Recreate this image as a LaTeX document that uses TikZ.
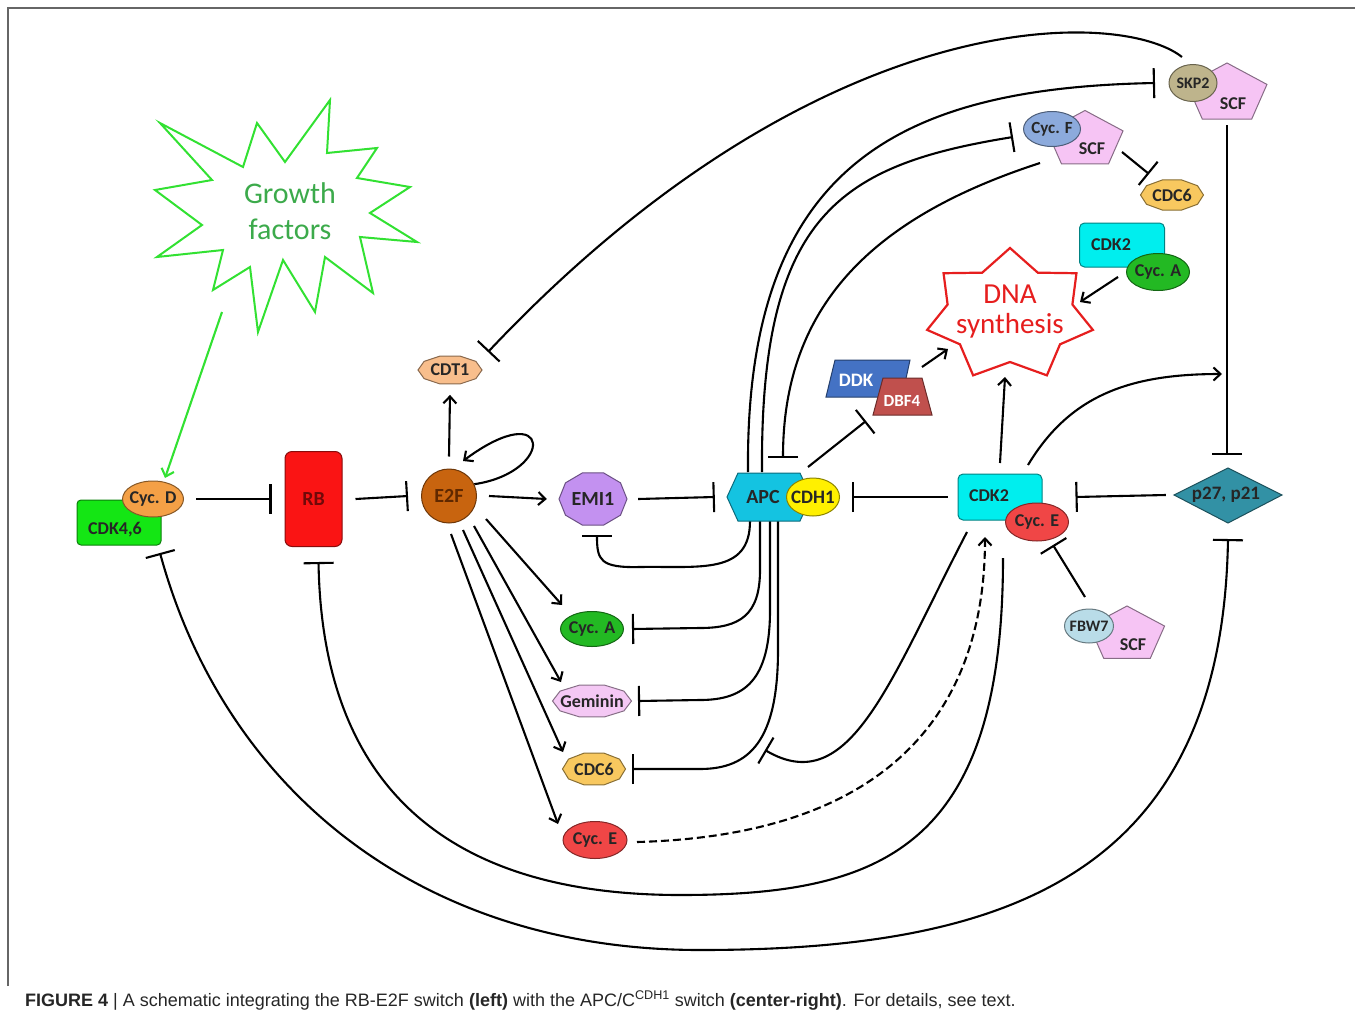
\documentclass[tikz,border=0pt]{standalone}
\usepackage{fontspec}
\setmainfont{Carlito}
\newfontfamily\capfont{Liberation Sans}
\usetikzlibrary{arrows.meta,shapes.geometric,calc}
\pgfdeclarelayer{bg}
\pgfsetlayers{bg,main}
\newcommand\zb[1]{\makebox[0pt]{#1}}
\definecolor{cdkgreen}{RGB}{20,230,20}
\definecolor{cycdorange}{RGB}{244,160,70}
\definecolor{rbred}{RGB}{250,20,20}
\definecolor{e2fbrown}{RGB}{200,100,15}
\definecolor{e2ftext}{RGB}{95,40,0}
\definecolor{cdtpeach}{RGB}{248,190,140}
\definecolor{emipurple}{RGB}{195,145,240}
\definecolor{apccyan}{RGB}{20,195,225}
\definecolor{cdhyellow}{RGB}{255,240,0}
\definecolor{cycagreen}{RGB}{35,185,35}
\definecolor{gempink}{RGB}{244,200,244}
\definecolor{cdcyellow}{RGB}{248,200,95}
\definecolor{cycered}{RGB}{240,70,70}
\definecolor{cdkcyan}{RGB}{0,238,238}
\definecolor{p27teal}{RGB}{50,145,165}
\definecolor{scfpink}{RGB}{246,196,244}
\definecolor{fbwblue}{RGB}{185,220,232}
\definecolor{skptan}{RGB}{190,180,140}
\definecolor{cycfblue}{RGB}{140,170,220}
\definecolor{ddkblue}{RGB}{68,114,196}
\definecolor{dbfred}{RGB}{192,80,77}
\definecolor{dnared}{RGB}{230,30,30}
\definecolor{gfgreen}{RGB}{50,225,50}
\definecolor{gftext}{RGB}{60,170,75}
\tikzset{
  lbl/.style={font=\bfseries\fontsize{18}{18}\selectfont, text=black!85},
  fl/.style={fill=#1, draw=#1!55!black, line width=1pt},
  ell/.style={ellipse, inner sep=0pt, lbl},
  act/.style={line width=2.1pt, -{Straight Barb[length=7pt,width=13pt]}},
  inh/.style={line width=2.1pt, -{Bar[width=30pt]}},
  inhboth/.style={line width=2.1pt, {Bar[width=30pt]}-{Bar[width=30pt]}},
}
\newcommand\mydeca[7]{%
  \begin{scope}[shift={(#2,#3)}]
  \draw[#6] (#4,0) -- ({.809*#4},{.588*#5}) -- ({.309*#4},{.951*#5}) -- ({-.309*#4},{.951*#5}) -- ({-.809*#4},{.588*#5}) -- (-#4,0) -- ({-.809*#4},{-.588*#5}) -- ({-.309*#4},{-.951*#5}) -- ({.309*#4},{-.951*#5}) -- ({.809*#4},{-.588*#5}) -- cycle;
  \node[ell, minimum width=2*#4pt, minimum height=2*#5pt] (#1) at (0,0) {\zb{#7}};
  \end{scope}}
\newcommand\mypent[5]{%
  \draw[#5] (#1,{#2-#4}) -- ({#1+.951*#3},{#2-.309*#4}) -- ({#1+.588*#3},{#2+.809*#4}) -- ({#1-.588*#3},{#2+.809*#4}) -- ({#1-.951*#3},{#2-.309*#4}) -- cycle;}
\begin{document}
\begin{tikzpicture}[x=1pt,y=-1pt]
\useasboundingbox (0,0) rectangle (1355,1017);
\draw[black!60, line width=1.2pt] (8,986) -- (8,8) -- (1355,8);

% ---------- Growth factors star
\draw[gfgreen, line width=2pt, line join=miter]
 (160,123) -- (243,167) -- (257,123) -- (285,162) -- (330,100) -- (327,153) -- (377,148) -- (357,178) -- (410,187) -- (370,213) -- (417,242) -- (360,237) -- (373,293) -- (325,257) -- (315,312) -- (283,260) -- (258,332) -- (250,267) -- (213,290) -- (223,250) -- (157,257) -- (202,225) -- (155,190) -- (212,180) -- cycle;
\node[align=center, text=gftext, font=\fontsize{30}{36}\selectfont] (gf) at (290,211) {Growth\\factors};
\coordinate (gfo) at (222,312);

% ---------- left nodes
\node[fl=cdkgreen, rectangle, rounded corners=4pt, minimum width=84pt, minimum height=45pt, inner sep=0pt] (cdk46) at (119,522.5) {};
\node[lbl] (cdk46t) at (115,530) {CDK4,6};
\node[ell, fl=cycdorange, minimum width=61pt, minimum height=36pt] (cycd) at (153,499) {\zb{Cyc. D}};
\node[fl=rbred, rectangle, rounded corners=7pt, minimum width=57pt, minimum height=95pt, lbl, text=rbred!45!black, font=\bfseries\fontsize{20}{20}\selectfont] (rb) at (313.5,499) {RB};
\node[ell, fl=e2fbrown, minimum width=55pt, minimum height=54pt, text=e2ftext, font=\bfseries\fontsize{20}{20}\selectfont] (e2f) at (449,496) {\zb{E2F}};
\mydeca{cdt1}{450}{370}{32}{14.7}{fl=cdtpeach}{CDT1}
\mydeca{emi1}{593}{499}{34}{27.5}{fl=emipurple}{\fontsize{20}{20}\selectfont EMI1}

% ---------- APC / CDH1
\draw[fl=apccyan] (727,497) -- (738,473) -- (800,473) -- (811,497) -- (800,521) -- (738,521) -- cycle;
\node[lbl, minimum width=74pt, minimum height=48pt, inner sep=0pt, font=\bfseries\fontsize{20}{20}\selectfont] (apc) at (763,497) {\zb{APC}};
\node[ell, fl=cdhyellow, minimum width=53pt, minimum height=38pt, font=\bfseries\fontsize{19}{19}\selectfont] (cdh1) at (813,497) {\zb{CDH1}};

% ---------- targets of E2F
\node[ell, fl=cycagreen, minimum width=63pt, minimum height=35pt] (cyca) at (592,629) {\zb{Cyc. A}};
\mydeca{gem}{592}{701}{39.5}{16.8}{fl=gempink}{Geminin}
\mydeca{cdc6}{594}{769}{31.5}{16.8}{fl=cdcyellow}{CDC6}
\node[ell, fl=cycered, minimum width=64pt, minimum height=37pt] (cyce) at (595,840) {\zb{Cyc. E}};

% ---------- CDK2 / Cyc E
\node[fl=cdkcyan, rectangle, rounded corners=5pt, minimum width=84pt, minimum height=46pt, inner sep=0pt] (cdk2e) at (1000,497) {};
\node[lbl] (cdk2et) at (989,496) {CDK2};
\node[ell, fl=cycered, minimum width=63pt, minimum height=38pt] (cyce2) at (1037,522) {\zb{Cyc. E}};

% ---------- p27, p21
\draw[fl=p27teal] (1174,495) -- (1228,468) -- (1282,495) -- (1228,523) -- cycle;
\node[lbl, minimum width=108pt, minimum height=55pt, inner sep=0pt, font=\bfseries\fontsize{19}{19}\selectfont] (p27) at (1226,495) {\zb{p27, p21}};

% ---------- FBW7 / SCF
\mypent{1127}{635}{39.5}{29}{fl=scfpink}
\node[lbl] (scf3) at (1133,645) {SCF};
\node[ell, fl=fbwblue, minimum width=49pt, minimum height=34pt, font=\bfseries\fontsize{16}{16}\selectfont] (fbw7) at (1089,626) {\zb{FBW7}};

% ---------- SKP2 / SCF
\mypent{1227}{94}{42}{31}{fl=scfpink}
\node[lbl] (scf1) at (1233,104) {SCF};
\node[ell, fl=skptan, minimum width=48pt, minimum height=37pt, font=\bfseries\fontsize{16}{16}\selectfont] (skp2) at (1193,83) {\zb{SKP2}};

% ---------- Cyc F / SCF
\mypent{1085}{140}{40}{29.5}{fl=scfpink}
\node[lbl] (scf2) at (1092,149) {SCF};
\node[ell, fl=cycfblue, minimum width=57pt, minimum height=35pt, font=\bfseries\fontsize{17}{17}\selectfont] (cycf) at (1052,129) {\zb{Cyc. F}};
\mydeca{cdc6b}{1172}{195}{31.5}{15.8}{fl=cdcyellow}{CDC6}

% ---------- CDK2 / Cyc A
\node[fl=cdkcyan, rectangle, rounded corners=5pt, minimum width=85pt, minimum height=44pt, inner sep=0pt] (cdk2a) at (1122,245) {};
\node[lbl] (cdk2at) at (1111,245) {CDK2};
\node[ell, fl=cycagreen, minimum width=63pt, minimum height=37pt] (cyca2) at (1158,272) {\zb{Cyc. A}};

% ---------- DNA synthesis
\begin{scope}[shift={(1010,315)}]
\draw[dnared, line width=2.2pt, fill=white] (0,-67) \foreach \i in {0,...,5}{ -- ({64*cos(90+\i*51.4286+25.7143)},{-47*sin(90+\i*51.4286+25.7143)}) -- ({85*cos(90+(\i+1)*51.4286)},{-67*sin(90+(\i+1)*51.4286)}) } -- ({64*cos(90+6*51.4286+25.7143)},{-47*sin(90+6*51.4286+25.7143)}) -- cycle;
\end{scope}
\node[align=center, text=dnared, font=\fontsize{29}{30}\selectfont, minimum width=150pt, minimum height=120pt] (dna) at (1010,312) {DNA\\synthesis};

% ---------- DDK / DBF4
\draw[fl=ddkblue] (835,360) -- (910,360) -- (902,397) -- (826,397) -- cycle;
\node[lbl, text=white, font=\bfseries\fontsize{19}{19}\selectfont] (ddk) at (856,380) {DDK};
\draw[fl=dbfred] (883,378) -- (922,378) -- (932,415) -- (873,415) -- cycle;
\node[lbl, text=white, font=\bfseries\fontsize{17}{17}\selectfont] (dbf4) at (902,401) {DBF4};

\coordinate (freeend) at (1222,374);

% ---------- connectors
\begin{pgfonlayer}{bg}
\draw[gfgreen, line width=2.1pt, -{Straight Barb[length=7pt,width=13pt]}] (gfo) -- ($(cycd)+(12,-21)$);
\draw[inh] ([xshift=12pt]cycd.east) -- ([xshift=-13pt]rb.west);
\draw[inh] ([xshift=13pt]rb.east) -- ([xshift=-13pt]e2f.west);
\draw[act] ([xshift=12pt]e2f.east) -- ([xshift=-12pt]emi1.west);
\draw[inh] ([xshift=11pt]emi1.east) -- ([xshift=-11pt]apc.west);
\draw[inh] ([xshift=-10pt]cdk2e.west) -- ([xshift=12pt]cdh1.east);
\draw[inh] ([xshift=-6pt]p27.west) -- ([xshift=33pt]cdk2e.east);
\draw[act] ([yshift=12pt]e2f.north) -- ([yshift=-10pt]cdt1.south);
\draw[act] (e2f.25) .. controls (556,472) and (552,395) .. ($(e2f)+(14,-35)$);
% fan from E2F
\draw[act] ($(e2f)+(37,23)$) -- ($(cyca)+(-30,-24)$);
\draw[act] ($(e2f)+(25,30)$) -- ($(gem)+(-31,-19)$);
\draw[act] ($(e2f)+(14,34)$) -- ($(cdc6)+(-31,-17)$);
\draw[act] ($(e2f)+(2,38)$) -- ($(cyce)+(-37,-16)$);
% SKP2 -| CDT1
\draw[inh] ($(skp2)+(-11,-26)$) .. controls (1120,8) and (820,0) .. ($(cdt1)+(38,-18)$);
% APC to top
\draw[inh] ($(apc)+(-15,-25)$) .. controls (745,165) and (900,88) .. ($(skp2)+(-38,0)$);
\draw[inh] ($(apc)+(-1,-25)$) .. controls (760,215) and (840,165) .. ($(cycf)+(-39,8)$);
\draw[inh] ($(cycf)+(-12,34)$) .. controls (880,215) and (783,300) .. ($(apc)+(20,-39)$);
\draw[inh] ($(cycf)+(70,23)$) -- ($(cdc6b)+(-23,-21)$);
\draw[inh] ($(p27)+(1,-370)$) -- ($(p27)+(1,-40)$);
\draw[inh] ($(apc)+(45,-30)$) -- ($(ddk)+(10,41)$);
\draw[act] ($(ddk)+(66,-13)$) -- ($(dna)+(-62,37)$);
\draw[act] ($(cyca2)+(-40,5)$) -- ($(dna)+(70,-10)$);
\draw[act] ($(cdk2e)+(0,-34)$) -- ($(dna)+(-5,65)$);
\draw[act] ($(cdk2e)+(28,-32)$) .. controls (1070,395) and (1130,374) .. (freeend);
\draw[inh] ($(fbw7)+(-4,-29)$) -- ($(cyce2)+(16,23)$);
% APC to bottom
\draw[inh] ($(apc)+(-13,24)$) .. controls (750,575) and (700,566) .. (640,567) .. controls (600,568) and (597,560) .. ($(emi1)+(4,36)$);
\draw[inh] ($(apc)+(-3,24)$) -- (760,570) .. controls (760,615) and (740,628) .. (700,628) -- ($(cyca)+(40,0)$);
\draw[inh] ($(apc)+(7,24)$) -- (770,610) .. controls (770,680) and (745,700) .. (700,700) -- ($(gem)+(46,0)$);
\draw[inh] ($(apc)+(15,24)$) -- (778,650) .. controls (778,740) and (750,769) .. (700,769) -- ($(cdc6)+(38,0)$);
\draw[inh] ($(cdk2e)+(-33,35)$) .. controls (890,680) and (850,800) .. ($(apc)+(2,253)$);
\draw[act, dash pattern=on 8pt off 4pt] ($(cyce)+(42,2)$) .. controls (900,835) and (985,700) .. ($(cdk2e)+(-15,40)$);
\draw[inh] ($(cdk2e)+(3,61)$) .. controls (1003,850) and (880,895) .. (680,895) .. controls (420,895) and (322,760) .. ($(rb)+(5,63)$);
\draw[inhboth] ($(cdk46)+(41,30.5)$) .. controls (225,790) and (420,950) .. (700,950) .. controls (1000,950) and (1222,880) .. ($(p27)+(2,44)$);
\end{pgfonlayer}

% ---------- caption
\node[anchor=base west, inner sep=0pt, text=black!85, font=\capfont\fontsize{18}{18}\selectfont] (cap) at (25,1006) {\textbf{FIGURE 4} | A schematic integrating the RB-E2F switch \textbf{(left)} with the APC/C\textsuperscript{CDH1} switch \textbf{(center-right)}. For details, see text.};
\end{tikzpicture}
\end{document}
